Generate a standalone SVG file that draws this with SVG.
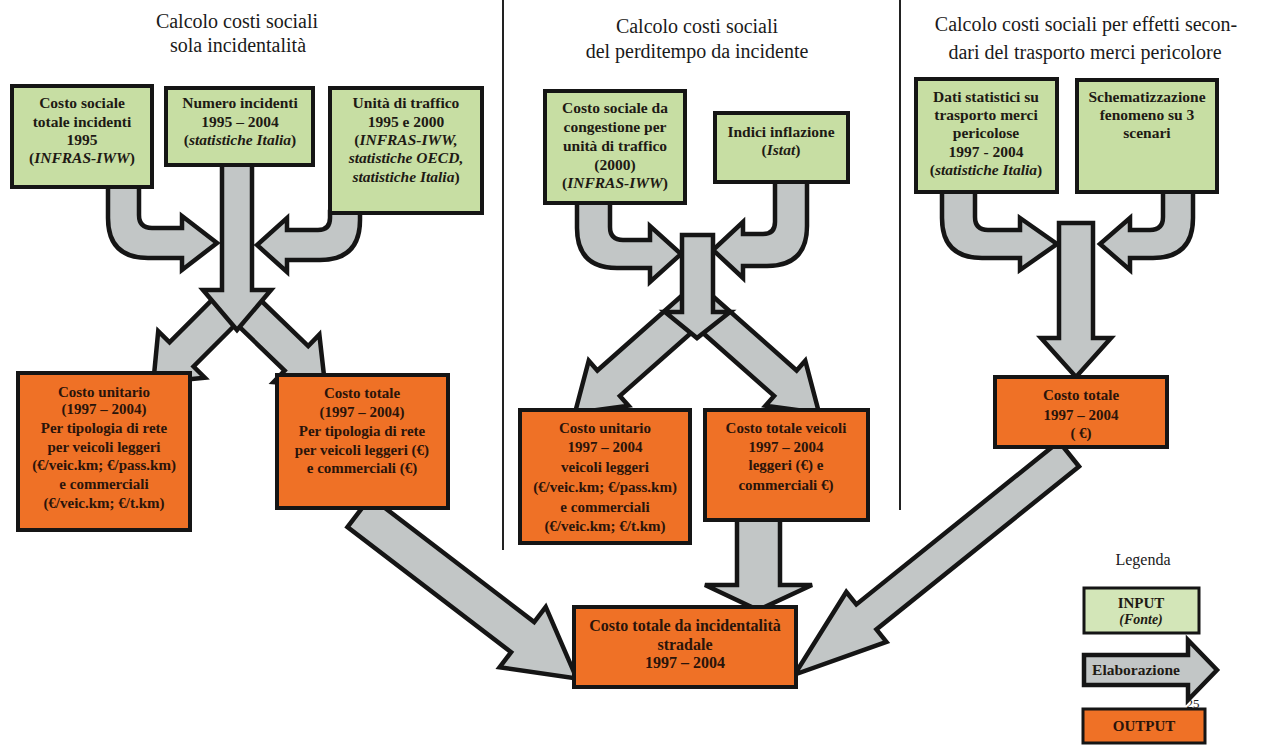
<svg xmlns="http://www.w3.org/2000/svg" width="1268" height="755" viewBox="0 0 1268 755">
<style>
.bg{fill:#ffffff}
.sep{stroke:#222;stroke-width:2}
.title{font-family:'Liberation Serif','Times New Roman','DejaVu Serif',serif;font-size:20px;fill:#1a1a1a;text-anchor:middle}
.in{fill:#c7dea3;stroke:#151515;stroke-width:4}
.out{fill:#ef7126;stroke:#151515;stroke-width:4}
.arr{fill:#c2c6c6;stroke:#151515;stroke-width:4.5;stroke-linejoin:miter}
.t{font-family:'Liberation Serif','Times New Roman','DejaVu Serif',serif;font-weight:bold;font-size:15.5px;fill:#1e1a14;text-anchor:middle}
.to{font-family:'Liberation Serif','Times New Roman','DejaVu Serif',serif;font-weight:bold;font-size:15px;fill:#2a140a;text-anchor:middle}
.i{font-style:italic}
</style>
<rect class="bg" x="0" y="0" width="1268" height="755"/>
<line class="sep" x1="503" y1="0" x2="503" y2="550"/>
<line class="sep" x1="900" y1="0" x2="900" y2="510"/>
<g id="titles">
<text class="title" x="237" y="28">Calcolo costi sociali</text>
<text class="title" x="238" y="52">sola incidentalità</text>
<text class="title" x="697" y="33">Calcolo costi sociali</text>
<text class="title" x="697" y="58">del perditempo da incidente</text>
<text class="title" x="1086" y="31">Calcolo costi sociali per effetti secon-</text>
<text class="title" x="1085" y="59">dari del trasporto merci pericolore</text>
</g>
<g id="connectors">
<path class="arr" d="M108,186 L108,218 Q108,258 148,258 L182,258 L182,270 L217,243 L182,216 L182,228 L152,228 Q139,228 139,215 L139,186 Z"/>
<path class="arr" d="M360,212 L360,220 Q360,260 320,260 L287,260 L287,272 L257,245 L287,218 L287,230 L318,230 Q330,230 330,218 L330,212 Z"/>
<polygon class="arr" points="0,-17 77,-17 77,-33 117,0 77,33 77,17 0,17" transform="translate(236,300) rotate(135)"/>
<polygon class="arr" points="0,-17 84,-17 84,-33 124,0 84,33 84,17 0,17" transform="translate(236,300) rotate(44)"/>
<polygon class="arr" points="222,164 252,164 252,290 271,290 237,330 203,290 222,290"/>
<path class="arr" d="M577,202 L577,228 Q577,268 617,268 L650,268 L650,282 L681,254 L650,226 L650,240 L623,240 Q610,240 610,227 L610,202 Z"/>
<path class="arr" d="M807,181 L807,226 Q807,266 767,266 L743,266 L743,278 L713,250 L743,222 L743,234 L763,234 Q775,234 775,222 L775,181 Z"/>
<polygon class="arr" points="0,-17 118,-17 118,-30 163,0 118,30 118,17 0,17" transform="translate(697,305) rotate(138.5)"/>
<polygon class="arr" points="0,-17 118,-17 118,-30 163,0 118,30 118,17 0,17" transform="translate(697,305) rotate(41.5)"/>
<polygon class="arr" points="682,235 713,235 713,312 730,312 697,338 665,312 682,312"/>
<path class="arr" d="M942,191 L942,218 Q942,258 982,258 L1020,258 L1020,270 L1057,244 L1020,218 L1020,230 L988,230 Q975,230 975,217 L975,191 Z"/>
<path class="arr" d="M1193,191 L1193,218 Q1193,258 1153,258 L1130,258 L1130,270 L1100,244 L1130,218 L1130,230 L1150,230 Q1163,230 1163,217 L1163,191 Z"/>
<polygon class="arr" points="1059,223 1093,223 1093,338 1111,338 1076,377 1041,338 1059,338"/>
<polygon class="arr" points="737,519 780,519 780,585 812,585 758,610 705,585 737,585"/>
<polygon class="arr" points="0,-19 206,-19 206,-38 274,0 206,38 206,19 0,19" transform="translate(359,512) rotate(37.4)"/>
<polygon class="arr" points="0,-16 260,-16 260,-32 352,0 260,32 260,16 0,16" transform="translate(1069,454) rotate(141.2)"/>
</g>
<g id="nodes">
<g id="in-costo-sociale">
<rect class="in" x="12" y="86" width="140" height="101"/>
<text class="t" x="82" y="108">Costo sociale</text>
<text class="t" x="82" y="127">totale incidenti</text>
<text class="t" x="82" y="145">1995</text>
<text class="t" x="82" y="163">(<tspan class="i">INFRAS-IWW</tspan>)</text>
</g>
<g id="in-numero-incidenti">
<rect class="in" x="166" y="88" width="147" height="77"/>
<text class="t" x="240" y="108">Numero incidenti</text>
<text class="t" x="240" y="127">1995 – 2004</text>
<text class="t" x="240" y="145">(<tspan class="i">statistiche Italia</tspan>)</text>
</g>
<g id="in-unita-traffico">
<rect class="in" x="330" y="88" width="152" height="125"/>
<text class="t" x="406" y="108">Unità di traffico</text>
<text class="t" x="406" y="127">1995 e 2000</text>
<text class="t" x="406" y="145">(<tspan class="i">INFRAS-IWW,</tspan></text>
<text class="t i" x="406" y="163">statistiche OECD,</text>
<text class="t" x="406" y="182"><tspan class="i">statistiche Italia</tspan>)</text>
</g>
<g id="in-congestione">
<rect class="in" x="545" y="91" width="140" height="112"/>
<text class="t" x="615" y="113">Costo sociale da</text>
<text class="t" x="615" y="132">congestione per</text>
<text class="t" x="615" y="151">unità di traffico</text>
<text class="t" x="615" y="170">(2000)</text>
<text class="t" x="615" y="188">(<tspan class="i">INFRAS-IWW</tspan>)</text>
</g>
<g id="in-inflazione">
<rect class="in" x="715" y="113" width="133" height="69"/>
<text class="t" x="781" y="137">Indici inflazione</text>
<text class="t" x="781" y="155">(<tspan class="i">Istat</tspan>)</text>
</g>
<g id="in-dati-statistici">
<rect class="in" x="916" y="79" width="141" height="113"/>
<text class="t" x="986" y="102">Dati statistici su</text>
<text class="t" x="986" y="120">trasporto merci</text>
<text class="t" x="986" y="138">pericolose</text>
<text class="t" x="986" y="157">1997 - 2004</text>
<text class="t" x="986" y="175">(<tspan class="i">statistiche Italia</tspan>)</text>
</g>
<g id="in-schematizzazione">
<rect class="in" x="1077" y="80" width="140" height="112"/>
<text class="t" x="1147" y="102">Schematizzazione</text>
<text class="t" x="1147" y="120">fenomeno su 3</text>
<text class="t" x="1147" y="138">scenari</text>
</g>
<g id="out-costo-unitario-1">
<rect class="out" x="18" y="373" width="172" height="157"/>
<text class="to" x="104" y="397">Costo unitario</text>
<text class="to" x="104" y="414">(1997 – 2004)</text>
<text class="to" x="104" y="433">Per tipologia di rete</text>
<text class="to" x="104" y="452">per veicoli leggeri</text>
<text class="to" x="104" y="470">(€/veic.km;  €/pass.km)</text>
<text class="to" x="104" y="489">e commerciali</text>
<text class="to" x="104" y="508">(€/veic.km;  €/t.km)</text>
</g>
<g id="out-costo-totale-1">
<rect class="out" x="277" y="375" width="171" height="133"/>
<text class="to" x="362" y="398">Costo totale</text>
<text class="to" x="362" y="417">(1997 – 2004)</text>
<text class="to" x="362" y="436">Per tipologia di rete</text>
<text class="to" x="362" y="455">per veicoli leggeri (€)</text>
<text class="to" x="362" y="473">e commerciali  (€)</text>
</g>
<g id="out-costo-unitario-2">
<rect class="out" x="520" y="410" width="170" height="133"/>
<text class="to" x="605" y="433">Costo unitario</text>
<text class="to" x="605" y="452">1997 – 2004</text>
<text class="to" x="605" y="472">veicoli leggeri</text>
<text class="to" x="605" y="492">(€/veic.km;  €/pass.km)</text>
<text class="to" x="605" y="512">e commerciali</text>
<text class="to" x="605" y="531">(€/veic.km;  €/t.km)</text>
</g>
<g id="out-costo-totale-veicoli">
<rect class="out" x="705" y="410" width="163" height="110"/>
<text class="to" x="786" y="433">Costo totale veicoli</text>
<text class="to" x="786" y="452">1997 – 2004</text>
<text class="to" x="786" y="470">leggeri (€) e</text>
<text class="to" x="786" y="490">commerciali €)</text>
</g>
<g id="out-costo-totale-3">
<rect class="out" x="995" y="377" width="172" height="70"/>
<text class="to" x="1081" y="400">Costo totale</text>
<text class="to" x="1081" y="420">1997 – 2004</text>
<text class="to" x="1081" y="438">( €)</text>
</g>
<g id="out-costo-totale-finale">
<rect class="out" x="574" y="607" width="222" height="80"/>
<text class="to" x="685" y="631" style="font-size:16px">Costo totale da incidentalità</text>
<text class="to" x="685" y="650" style="font-size:16px">stradale</text>
<text class="to" x="685" y="668" style="font-size:16px">1997 – 2004</text>
</g>
</g>
<g id="legend">
<text class="title" x="1143" y="565" style="font-size:16px">Legenda</text>
<rect class="in" x="1084" y="588" width="115" height="45" style="fill:#d3e6b8;stroke-width:3"/>
<text class="t" x="1141" y="608" style="font-size:15px">INPUT</text>
<text class="t i" x="1141" y="624" style="font-size:14px">(Fonte)</text>
<polygon class="arr" points="1084,655 1188,655 1188,640 1217,670 1188,700 1188,685 1084,685"/>
<text class="t" x="1136" y="675" style="font-size:15.5px">Elaborazione</text>
<text x="1193" y="708" style="font-family:'Liberation Serif','Times New Roman','DejaVu Serif',serif;font-size:13px;fill:#222;text-anchor:middle">25</text>
<rect class="out" x="1083" y="709" width="122" height="34" style="stroke-width:3"/>
<text class="to" x="1144" y="731" style="font-size:15px">OUTPUT</text>
</g>
</svg>
